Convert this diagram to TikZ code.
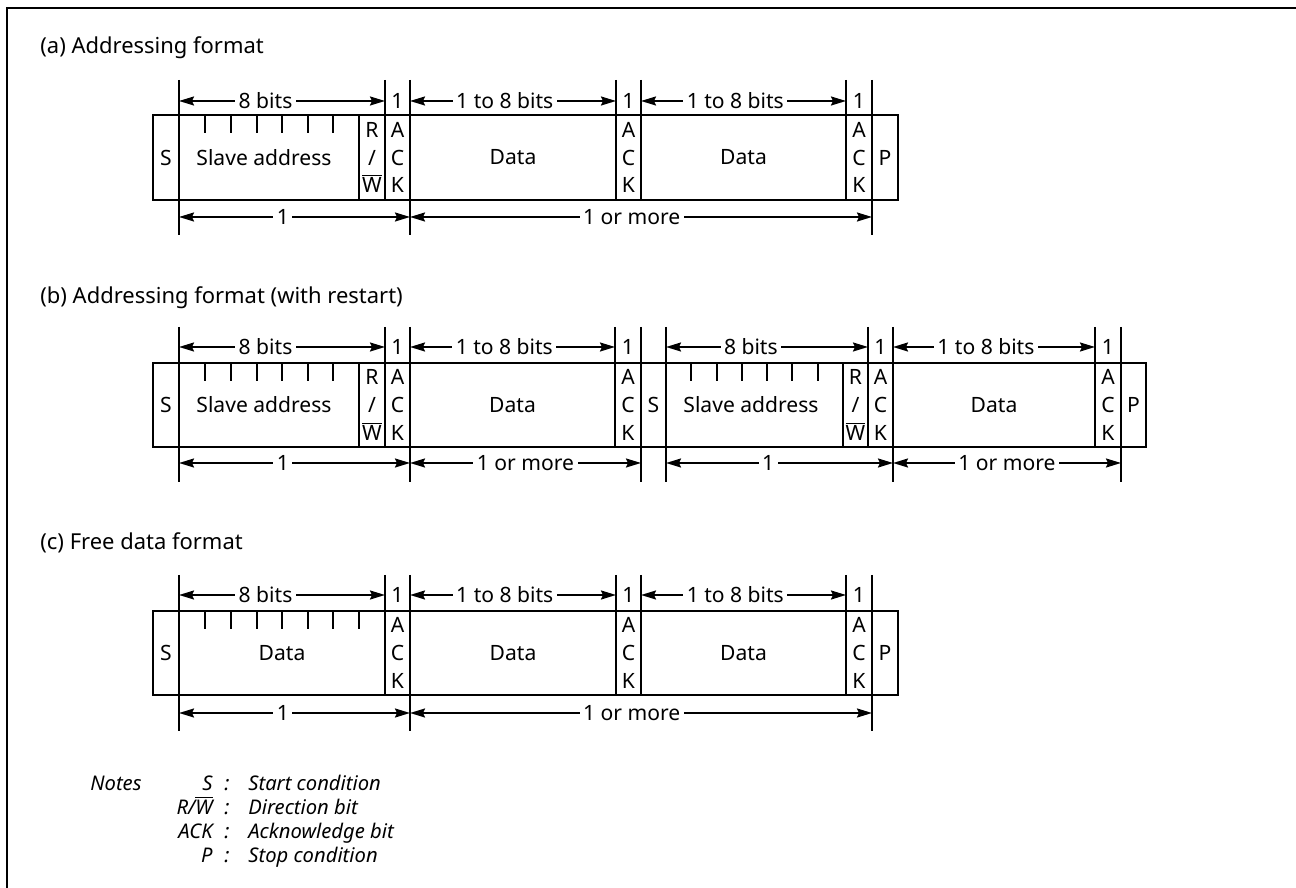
\documentclass[tikz,border=0pt]{standalone}
\usepackage{fontspec}
\setmainfont{Noto Sans}
\usetikzlibrary{arrows.meta}
\newcommand{\barW}{$\overline{\hbox{W}}$}
\newcommand{\barWit}{$\overline{\hbox{\itshape W}}$}

\tikzset{
  rule/.style={line width=1pt},
  dimarr/.style={line width=1pt,
    {Stealth[length=3mm,width=1.8mm,inset=0.4mm]}-{Stealth[length=3mm,width=1.8mm,inset=0.4mm]}},
  dimlbl/.style={fill=white, inner xsep=2pt, inner ysep=0pt, font=\fontsize{12}{14}\selectfont},
  field/.style={inner sep=0pt, font=\fontsize{12}{14}\selectfont},
  stack/.style={align=center, inner sep=0pt, font=\fontsize{12}{15.9}\selectfont},
  heading/.style={anchor=west, inner sep=0pt, font=\fontsize{12.5}{15}\selectfont},
  note/.style={inner sep=0pt, font=\fontsize{11.5}{13}\selectfont\itshape},
}

\begin{document}
\begin{tikzpicture}[x=0.02cm, y=-0.02cm]
  \useasboundingbox (0,0) rectangle (1296,888);

  % outer frame (top and left only)
  \draw[line width=1.5pt] (7,888) -- (7,8) -- (1296,8);

  % (a) Addressing format
  \node[heading] (ta) at (40,48) {(a) Addressing format};
  \begin{scope}[shift={(0,115)}]
    \draw[rule] (153,0) rectangle (898,85);
    \foreach \x in {179,359,385,410,616,641,846,872}
      \draw[rule] (\x,0) -- (\x,85);
    % bit ticks
    \foreach \x in {205,231,257,282,308,333}
      \draw[rule] (\x,0) -- (\x,18);
    % extension lines
    \foreach \x in {179,385,410,616,641,846,872}
      \draw[rule] (\x,-35) -- (\x,0);
    \foreach \x in {179,410,872}
      \draw[rule] (\x,85) -- (\x,120);
    % field names
    \node[field] (aS) at (166,42.5) {S};
    \node[field] (aAdr) at (264,42.5) {Slave address};
    \node[stack] (aRW) at (372,42.5) {R\\/\\\barW};
    \node[stack] (aAck1) at (397.5,42.5) {A\\C\\K};
    \node[field] (aD1) at (513,42.5) {Data};
    \node[stack] (aAck2) at (628.5,42.5) {A\\C\\K};
    \node[field] (aD2) at (743.5,42.5) {Data};
    \node[stack] (aAck3) at (859,42.5) {A\\C\\K};
    \node[field] (aP) at (885,42.5) {P};
    % field widths
    \draw[dimarr] (179,-14) -- node[dimlbl,pos=0.42] (aW1) {8 bits} (385,-14);
    \node[field] (aW2) at (397.5,-14) {1};
    \draw[dimarr] (410,-14) -- node[dimlbl,pos=0.46] (aW3) {1 to 8 bits} (616,-14);
    \node[field] (aW4) at (628.5,-14) {1};
    \draw[dimarr] (641,-14) -- node[dimlbl,pos=0.46] (aW5) {1 to 8 bits} (846,-14);
    \node[field] (aW6) at (859,-14) {1};
    \draw[dimarr] (179,102) -- node[dimlbl,pos=0.45] (aN1) {1} (410,102);
    \draw[dimarr] (410,102) -- node[dimlbl,pos=0.48] (aN2) {1 or more} (872,102);
  \end{scope}

  % (b) Addressing format (with restart)
  \node[heading] (tb) at (40,298) {(b) Addressing format (with restart)};
  \begin{scope}[shift={(0,363)}]
    \draw[rule] (153,0) rectangle (1146,84);
    \foreach \x in {179,359,385,410,615,641,666,843,868,893,1095,1121}
      \draw[rule] (\x,0) -- (\x,84);
    % bit ticks
    \foreach \x in {205,231,257,282,308,333,691,717,742,767,792,818}
      \draw[rule] (\x,0) -- (\x,18);
    % extension lines
    \foreach \x in {179,385,410,615,641,666,868,893,1095,1121}
      \draw[rule] (\x,-36) -- (\x,0);
    \foreach \x in {179,410,641,666,893,1121}
      \draw[rule] (\x,84) -- (\x,119);
    % field names
    \node[field] (bS1) at (166,42) {S};
    \node[field] (bAdr1) at (264,42) {Slave address};
    \node[stack] (bRW1) at (372,42) {R\\/\\\barW};
    \node[stack] (bAck1) at (397.5,42) {A\\C\\K};
    \node[field] (bD1) at (512.5,42) {Data};
    \node[stack] (bAck2) at (628,42) {A\\C\\K};
    \node[field] (bS2) at (653.5,42) {S};
    \node[field] (bAdr2) at (751,42) {Slave address};
    \node[stack] (bRW2) at (855.5,42) {R\\/\\\barW};
    \node[stack] (bAck3) at (880.5,42) {A\\C\\K};
    \node[field] (bD2) at (994,42) {Data};
    \node[stack] (bAck4) at (1108,42) {A\\C\\K};
    \node[field] (bP) at (1133.5,42) {P};
    % field widths
    \draw[dimarr] (179,-16) -- node[dimlbl,pos=0.42] (bW1) {8 bits} (385,-16);
    \node[field] (bW2) at (397.5,-16) {1};
    \draw[dimarr] (410,-16) -- node[dimlbl,pos=0.46] (bW3) {1 to 8 bits} (615,-16);
    \node[field] (bW4) at (628,-16) {1};
    \draw[dimarr] (666,-16) -- node[dimlbl,pos=0.42] (bW5) {8 bits} (868,-16);
    \node[field] (bW6) at (880.5,-16) {1};
    \draw[dimarr] (893,-16) -- node[dimlbl,pos=0.46] (bW7) {1 to 8 bits} (1095,-16);
    \node[field] (bW8) at (1108,-16) {1};
    \draw[dimarr] (179,100) -- node[dimlbl,pos=0.45] (bN1) {1} (410,100);
    \draw[dimarr] (410,100) -- node[dimlbl,pos=0.5] (bN2) {1 or more} (641,100);
    \draw[dimarr] (666,100) -- node[dimlbl,pos=0.45] (bN3) {1} (893,100);
    \draw[dimarr] (893,100) -- node[dimlbl,pos=0.5] (bN4) {1 or more} (1121,100);
  \end{scope}

  % (c) Free data format
  \node[heading] (tc) at (40,543) {(c) Free data format};
  \begin{scope}[shift={(0,611)}]
    \draw[rule] (153,0) rectangle (898,84);
    \foreach \x in {179,385,410,616,641,846,872}
      \draw[rule] (\x,0) -- (\x,84);
    % bit ticks
    \foreach \x in {205,231,257,282,308,333,359}
      \draw[rule] (\x,0) -- (\x,18);
    % extension lines
    \foreach \x in {179,385,410,616,641,846,872}
      \draw[rule] (\x,-36) -- (\x,0);
    \foreach \x in {179,410,872}
      \draw[rule] (\x,84) -- (\x,120);
    % field names
    \node[field] (cS) at (166,42) {S};
    \node[field] (cD1) at (282,42) {Data};
    \node[stack] (cAck1) at (397.5,42) {A\\C\\K};
    \node[field] (cD2) at (513,42) {Data};
    \node[stack] (cAck2) at (628.5,42) {A\\C\\K};
    \node[field] (cD3) at (743.5,42) {Data};
    \node[stack] (cAck3) at (859,42) {A\\C\\K};
    \node[field] (cP) at (885,42) {P};
    % field widths
    \draw[dimarr] (179,-16) -- node[dimlbl,pos=0.42] (cW1) {8 bits} (385,-16);
    \node[field] (cW2) at (397.5,-16) {1};
    \draw[dimarr] (410,-16) -- node[dimlbl,pos=0.46] (cW3) {1 to 8 bits} (616,-16);
    \node[field] (cW4) at (628.5,-16) {1};
    \draw[dimarr] (641,-16) -- node[dimlbl,pos=0.46] (cW5) {1 to 8 bits} (846,-16);
    \node[field] (cW6) at (859,-16) {1};
    \draw[dimarr] (179,102) -- node[dimlbl,pos=0.45] (cN1) {1} (410,102);
    \draw[dimarr] (410,102) -- node[dimlbl,pos=0.48] (cN2) {1 or more} (872,102);
  \end{scope}

  % notes
  \node[note, anchor=base west] (notes) at (90,790) {Notes};
  \node[note, anchor=base east] (kS) at (213,790) {S};
  \node[note, anchor=base east] (kRW) at (213,814) {R/\barWit};
  \node[note, anchor=base east] (kAck) at (213,838) {ACK};
  \node[note, anchor=base east] (kP) at (213,862) {P};
  \foreach \y/\n in {790/1,814/2,838/3,862/4}
    \node[note, anchor=base] (col\n) at (227,\y) {:};
  \node[note, anchor=base west] (dS) at (248,790) {Start condition};
  \node[note, anchor=base west] (dRW) at (248,814) {Direction bit};
  \node[note, anchor=base west] (dAck) at (248,838) {Acknowledge bit};
  \node[note, anchor=base west] (dP) at (248,862) {Stop condition};
\end{tikzpicture}
\end{document}
